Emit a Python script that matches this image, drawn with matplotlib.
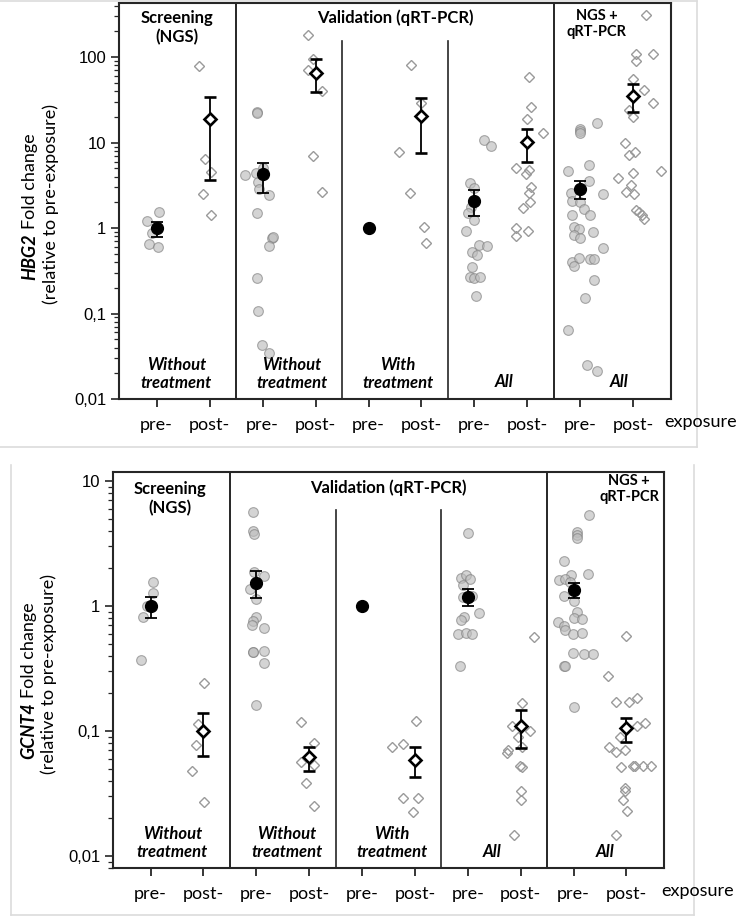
import numpy as np
import matplotlib.pyplot as plt
from matplotlib.lines import Line2D
from matplotlib.ticker import LogLocator, NullFormatter

# group order: pre/post x (screening, validation w/o, validation with, validation all, NGS+qRT-PCR all)
positions = np.arange(10)
tick_labels = ['pre-', 'post-'] * 5

# ---------------- HBG2 ----------------
hbg2_values = [
    [1.55, 1.21, 0.87, 0.65, 0.60],
    [79, 6.4, 4.5, 2.5, 1.43],
    [23, 22.5, 4.17, 4.36, 5.0, 3.5, 2.9, 2.43, 1.51, 0.77, 0.79, 0.62, 0.26, 0.108, 0.043, 0.035],
    [184, 95, 70, 40, 7.0, 2.66],
    [],
    [82, 28.7, 7.8, 2.54, 1.04, 0.66],
    [10.6, 9.2, 3.4, 2.96, 1.78, 1.49, 1.24, 0.92, 0.64, 0.62, 0.53, 0.48, 0.35, 0.27, 0.26, 0.27, 0.16],
    [57.8, 26.2, 18.8, 12.8, 5.0, 4.77, 4.28, 3.04, 2.59, 2.03, 1.70, 1.0, 0.81, 0.92],
    [16.8, 14.5, 13.5, 13.0, 4.6, 5.4, 3.6, 2.59, 2.48, 2.07, 2.03, 1.65, 1.42, 1.42, 1.02, 0.98,
     0.83, 0.76, 0.9, 0.58, 0.40, 0.45, 0.36, 0.43, 0.43, 0.25, 0.153, 0.064, 0.025, 0.021],
    [310, 110, 110, 90.6, 55, 41, 24, 29, 19.7, 9.8, 7.8, 7.1, 4.4, 3.9, 4.7, 3.18, 2.66, 2.48,
     1.62, 1.42, 1.26, 1.55],
]
hbg2_jitter = [
    [0.04, -0.18, -0.09, -0.14, 0.03],
    [-0.2, -0.08, 0.02, -0.13, 0.02],
    [-0.11, -0.11, -0.33, -0.12, 0.0, -0.08, -0.07, 0.13, -0.11, 0.18, 0.2, 0.13, -0.1, -0.08, -0.01, 0.13],
    [-0.15, -0.05, -0.15, 0.12, -0.05, 0.12],
    [],
    [-0.2, 0.0, -0.43, -0.21, 0.05, 0.09],
    [0.18, 0.32, -0.09, 0.0, -0.06, -0.13, 0.0, -0.16, 0.09, 0.24, -0.04, 0.04, -0.05, -0.09, -0.01, 0.11, 0.03],
    [0.03, 0.06, 0.0, 0.29, -0.21, 0.03, -0.02, 0.06, 0.03, 0.05, -0.09, -0.21, -0.21, 0.01],
    [0.32, 0.0, 0.0, 0.0, -0.24, 0.17, 0.17, -0.18, 0.42, -0.16, 0.0, 0.07, -0.16, 0.18, -0.13, -0.02,
     -0.13, 0.0, 0.23, 0.42, -0.16, -0.02, -0.12, 0.18, 0.25, 0.25, 0.08, -0.24, 0.12, 0.32],
    [0.23, 0.05, 0.37, 0.05, 0.0, 0.2, -0.09, 0.37, -0.01, -0.15, 0.03, -0.09, -0.01, -0.29, 0.53, -0.04,
     -0.14, 0.01, 0.04, 0.16, 0.2, 0.1],
]
hbg2_mean = [1.0, 18.8, 4.3, 66, 1.0, 20.6, 2.09, 10.1, 2.88, 35]
hbg2_lo = [0.79, 3.7, 2.54, 38.6, 1.0, 7.5, 1.38, 5.97, 2.18, 22.7]
hbg2_hi = [1.17, 34, 5.75, 94, 1.0, 33.4, 2.78, 14.4, 3.54, 48]

# ---------------- GCNT4 ----------------
gcnt4_values = [
    [1.55, 1.28, 1.0, 0.82, 0.37],
    [0.24, 0.114, 0.077, 0.048, 0.027],
    [5.65, 4.0, 3.77, 1.88, 1.74, 1.37, 1.13, 0.82, 0.76, 0.70, 0.67, 0.43, 0.43, 0.44, 0.35, 0.16],
    [0.117, 0.080, 0.056, 0.053, 0.038, 0.025],
    [],
    [0.120, 0.075, 0.079, 0.029, 0.029, 0.0223],
    [3.86, 1.66, 1.77, 1.63, 1.47, 1.19, 1.2, 0.88, 0.82, 0.77, 0.60, 0.61, 0.60, 0.33],
    [0.56, 0.166, 0.11, 0.1, 0.090, 0.074, 0.067, 0.07, 0.052, 0.051, 0.033, 0.028, 0.0146],
    [5.35, 3.93, 3.7, 3.5, 2.3, 1.79, 1.77, 1.61, 1.65, 1.55, 1.2, 1.1, 0.90, 0.80, 0.79, 0.74,
     0.69, 0.64, 0.60, 0.61, 0.42, 0.41, 0.41, 0.33, 0.33, 0.155],
    [0.58, 0.277, 0.169, 0.17, 0.182, 0.115, 0.11, 0.09, 0.075, 0.068, 0.07, 0.051, 0.052, 0.052,
     0.052, 0.052, 0.035, 0.033, 0.028, 0.023, 0.0147],
]
gcnt4_jitter = [
    [0.04, 0.04, -0.07, -0.15, -0.18],
    [0.02, -0.1, -0.14, -0.21, 0.02],
    [-0.06, -0.06, -0.04, -0.04, 0.15, -0.11, -0.01, -0.01, -0.06, -0.09, 0.15, -0.07, -0.06, 0.15, 0.15, -0.01],
    [-0.16, 0.09, -0.16, 0.09, -0.06, 0.09],
    [],
    [0.02, -0.44, -0.23, -0.23, 0.06, -0.03],
    [0.0, -0.12, -0.03, 0.04, -0.10, -0.09, 0.07, 0.21, -0.07, -0.12, -0.18, -0.04, 0.07, -0.15],
    [0.25, 0.03, -0.16, 0.17, -0.05, 0.03, -0.25, -0.24, -0.02, 0.03, 0.0, 0.0, -0.13],
    [0.29, 0.07, 0.07, 0.07, -0.18, 0.28, -0.04, -0.28, -0.16, -0.07, -0.19, 0.01, 0.07, 0.01, 0.15, -0.29,
     -0.18, -0.16, -0.02, 0.15, -0.02, 0.2, 0.37, -0.19, -0.16, 0.0],
    [0.0, -0.35, -0.19, 0.05, 0.2, 0.35, 0.19, -0.13, -0.33, -0.19, -0.03, -0.11, 0.13, 0.16, 0.31, 0.47,
     -0.03, -0.03, -0.06, 0.01, -0.19],
]
gcnt4_mean = [1.0, 0.10, 1.54, 0.0615, 1.0, 0.059, 1.19, 0.11, 1.34, 0.105]
gcnt4_lo = [0.80, 0.063, 1.16, 0.048, 1.0, 0.043, 0.99, 0.073, 1.15, 0.082]
gcnt4_hi = [1.19, 0.138, 1.89, 0.075, 1.0, 0.075, 1.36, 0.147, 1.52, 0.126]

TXT = 'Lato'
NUM = 'Liberation Sans'
DARK = '#262626'


def draw_panel(ax, vals, jit, mean, lo, hi, ylim, yticks, yticklabels):
    for i in range(10):
        x = i + np.array(jit[i], dtype=float)
        v = np.array(vals[i], dtype=float)
        if len(v) == 0:
            continue
        if i % 2 == 0:
            ax.plot(x, v, 'o', ms=7, mfc='#bdbdbd', mec='#7f7f7f', mew=0.8, alpha=0.65,
                    ls='none', zorder=2)
        else:
            ax.plot(x, v, 'D', ms=5, mfc='none', mec='#9a9a9a', mew=1.0, ls='none', zorder=2)
    for i in range(10):
        if i % 2 == 0:
            kw = dict(fmt='o', ms=8.5, mfc='black', mec='black')
        else:
            kw = dict(fmt='D', ms=6.5, mfc='white', mec='black', mew=1.9)
        if hi[i] > lo[i]:
            yerr = [[mean[i] - lo[i]], [hi[i] - mean[i]]]
            ax.errorbar(i, mean[i], yerr=yerr, ecolor='black', elinewidth=1.3,
                        capsize=4.5, capthick=1.3, zorder=5, **kw)
        else:
            ax.plot(i, mean[i], ls='none', zorder=5, marker=kw['fmt'], ms=kw['ms'],
                    mfc=kw['mfc'], mec=kw['mec'])

    ax.set_yscale('log')
    ax.set_ylim(*ylim)
    ax.set_xlim(-0.71, 9.71)
    ax.set_yticks(yticks)
    ax.set_yticklabels(yticklabels, fontfamily=NUM, fontsize=12)
    ax.yaxis.set_minor_locator(LogLocator(base=10, subs=np.arange(2, 10)))
    ax.yaxis.set_minor_formatter(NullFormatter())
    ax.set_xticks(positions)
    ax.set_xticklabels(tick_labels, fontfamily=TXT, fontsize=13)
    ax.tick_params(axis='y', which='major', length=6, width=1.2, pad=3, color=DARK)
    ax.tick_params(axis='y', which='minor', length=3.5, width=0.9, color=DARK)
    ax.tick_params(axis='x', length=6, width=1.3, pad=7, color=DARK)
    for s in ax.spines.values():
        s.set_linewidth(1.5)
        s.set_color(DARK)

    ax.axvline(1.5, color=DARK, lw=1.4)
    ax.axvline(7.5, color=DARK, lw=1.4)
    ax.axvline(3.5, ymax=0.905, color=DARK, lw=1.2)
    ax.axvline(5.5, ymax=0.905, color=DARK, lw=1.2)


fig = plt.figure(figsize=(7.38, 9.16), dpi=100)
W, H = 738, 916

ax1 = fig.add_axes([119 / W, 1 - 399 / H, 552 / W, 396 / H])
ax2 = fig.add_axes([113 / W, 1 - 868 / H, 551 / W, 396 / H])

draw_panel(ax1, hbg2_values, hbg2_jitter, hbg2_mean, hbg2_lo, hbg2_hi, (0.01, 430),
           [0.01, 0.1, 1, 10, 100], ['0,01', '0,1', '1', '10', '100'])
draw_panel(ax2, gcnt4_values, gcnt4_jitter, gcnt4_mean, gcnt4_lo, gcnt4_hi, (0.008, 11.8),
           [0.01, 0.1, 1, 10], ['0,01', '0,1', '1', '10'])

bold = dict(fontfamily=TXT, fontweight='bold', ha='center', va='center', fontsize=12)
bital = dict(fontfamily=TXT, fontweight='bold', fontstyle='italic', ha='center', va='center',
             fontsize=12)

# top panel labels
t1 = ax1.get_xaxis_transform()
ax1.text(0.38, 0.937, 'Screening\n(NGS)', transform=t1, linespacing=1.2, **bold)
ax1.text(4.5, 0.962, 'Validation (qRT-PCR)', transform=t1, **bold)
ax1.text(8.31, 0.947, 'NGS +\nqRT-PCR', transform=t1, linespacing=1.2,
         **{**bold, 'fontsize': 10.5})
ax1.text(0.37, 0.063, 'Without\ntreatment', transform=t1, linespacing=1.2, **bital)
ax1.text(2.55, 0.063, 'Without\ntreatment', transform=t1, linespacing=1.2, **bital)
ax1.text(4.55, 0.063, 'With\ntreatment', transform=t1, linespacing=1.2, **bital)
ax1.text(6.55, 0.043, 'All', transform=t1, **bital)
ax1.text(8.73, 0.043, 'All', transform=t1, **bital)

# bottom panel labels
t2 = ax2.get_xaxis_transform()
ax2.text(0.36, 0.932, 'Screening\n(NGS)', transform=t2, linespacing=1.2, **bold)
ax2.text(4.5, 0.96, 'Validation (qRT-PCR)', transform=t2, **bold)
ax2.text(9.05, 0.957, 'NGS +\nqRT-PCR', transform=t2, linespacing=1.2,
         **{**bold, 'fontsize': 10.5})
ax2.text(0.41, 0.063, 'Without\ntreatment', transform=t2, linespacing=1.2, **bital)
ax2.text(2.58, 0.063, 'Without\ntreatment', transform=t2, linespacing=1.2, **bital)
ax2.text(4.57, 0.063, 'With\ntreatment', transform=t2, linespacing=1.2, **bital)
ax2.text(6.46, 0.04, 'All', transform=t2, **bital)
ax2.text(8.6, 0.04, 'All', transform=t2, **bital)

# x axis title
fig.text(701 / W, 1 - 422 / H, 'exposure', fontfamily=TXT, fontsize=13, ha='center', va='center')
fig.text(698 / W, 1 - 891 / H, 'exposure', fontfamily=TXT, fontsize=13, ha='center', va='center')

# y axis titles
ylab = dict(rotation=90, rotation_mode='anchor', va='center', fontfamily=TXT, fontsize=13)
fig.text(30 / W, 1 - 233 / H, 'HBG2', ha='right', fontweight='bold', fontstyle='italic', **ylab)
fig.text(30 / W, 1 - 229 / H, 'Fold change', ha='left', **ylab)
fig.text(51 / W, 1 - 204 / H, '(relative to pre-exposure)', ha='center', **ylab)
fig.text(29 / W, 1 - 702 / H, 'GCNT4', ha='right', fontweight='bold', fontstyle='italic', **ylab)
fig.text(29 / W, 1 - 698 / H, 'Fold change', ha='left', **ylab)
fig.text(49 / W, 1 - 674 / H, '(relative to pre-exposure)', ha='center', **ylab)

# faint frames around the two panels
frame = dict(transform=fig.transFigure, color='#dcdcdc', lw=1.2)
fig.add_artist(Line2D([0, 697 / W], [1 - 1 / H, 1 - 1 / H], **frame))
fig.add_artist(Line2D([697 / W, 697 / W], [1 - 1 / H, 1 - 447 / H], **frame))
fig.add_artist(Line2D([0, 697 / W], [1 - 447 / H, 1 - 447 / H], **frame))
fig.add_artist(Line2D([11 / W, 11 / W], [1 - 465 / H, 1 - 915 / H], **frame))
fig.add_artist(Line2D([694 / W, 694 / W], [1 - 465 / H, 1 - 915 / H], **frame))
fig.add_artist(Line2D([11 / W, 694 / W], [1 - 915 / H, 1 - 915 / H], **frame))

fig.savefig('out.png', dpi=100)
